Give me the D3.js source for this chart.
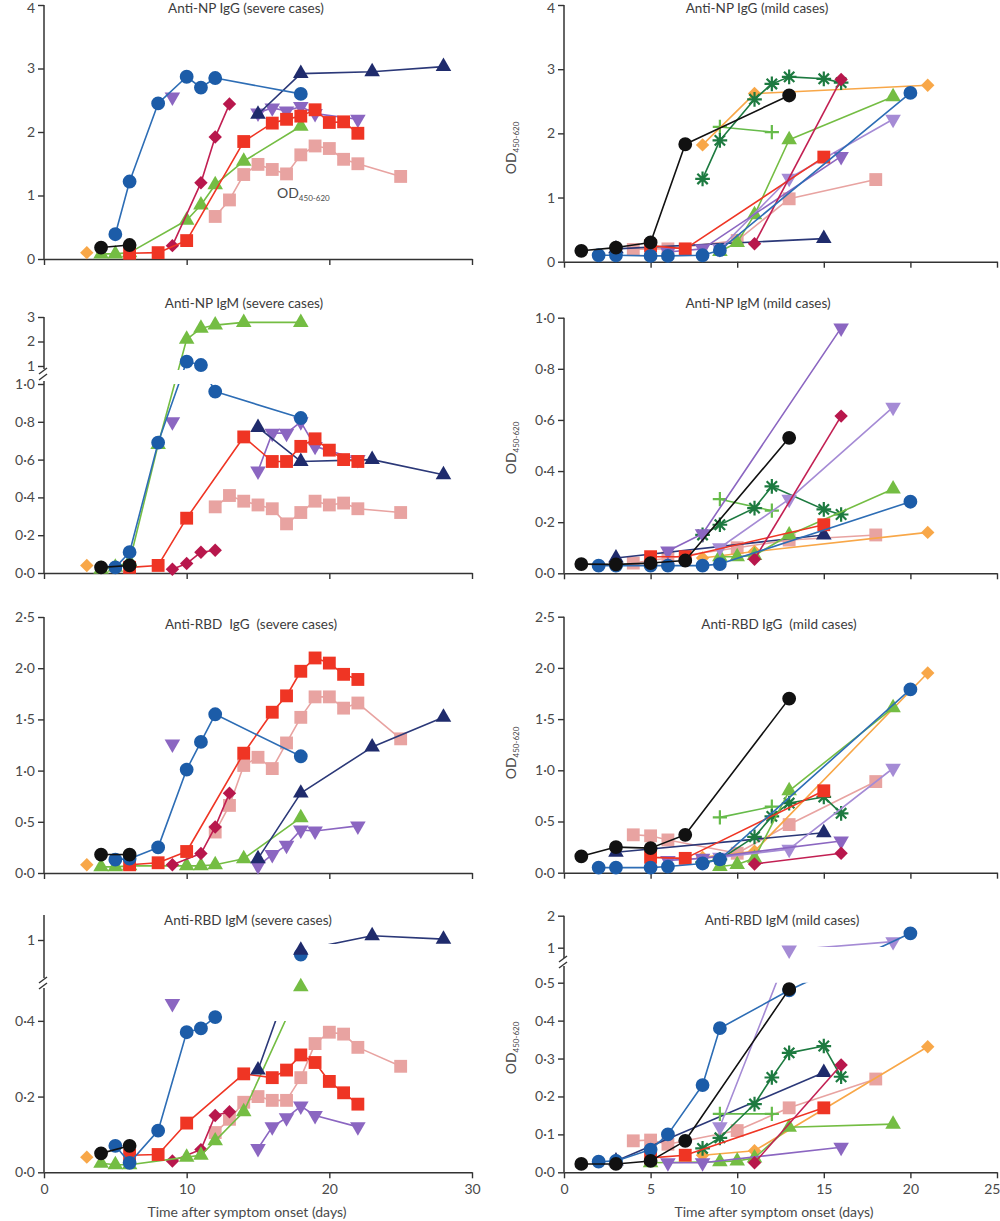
<!DOCTYPE html>
<html><head><meta charset="utf-8">
<script src="https://cdn.jsdelivr.net/npm/d3@7"></script>
<style>body{margin:0;background:#fff}svg{display:block}</style>
</head><body>
<svg id="chart" width="1000" height="1221"></svg>
<script>
// ---------------- DATA ([day, OD450-620]) ----------------
const titles = ["Anti-NP IgG (severe cases)", "Anti-NP IgM (severe cases)", "Anti-RBD  IgG  (severe cases)", "Anti-RBD IgM (severe cases)",
                "Anti-NP IgG (mild cases)", "Anti-NP IgM (mild cases)", "Anti-RBD IgG  (mild cases)", "Anti-RBD IgM (mild cases)"];
const xTicksSevere = [0, 10, 20, 30];
const xTicksMild = [0, 5, 10, 15, 20, 25];
const yTicks0to4 = [0, 1, 2, 3, 4];
const yTicksNpIgMSevereLow = [0, 0.2, 0.4, 0.6, 0.8, 1.0];
const yTicksNpIgMSevereHigh = [1, 2, 3];
const yTicks0to25 = [0, 0.5, 1.0, 1.5, 2.0, 2.5];
const yTicksRbdIgMSevereLow = [0, 0.2, 0.4];
const yTicksRbdIgMSevereHigh = [1];
const yTicks0to1 = [0, 0.2, 0.4, 0.6, 0.8, 1.0];
const yTicksRbdIgMMildLow = [0, 0.1, 0.2, 0.3, 0.4, 0.5];
const yTicksRbdIgMMildHigh = [1, 2];
const xLabel = "Time after symptom onset (days)";

const npIgGSevere = [
  {key: "pink", pts: [[12,0.67],[13,0.93],[14,1.33],[15,1.49],[16,1.41],[17,1.34],[18,1.64],[19,1.78],[20,1.74],[21,1.57],[22,1.5],[25,1.3]]},
  {key: "green", pts: [[4,0.08],[5,0.08],[6,0.1],[10,0.61],[11,0.85],[12,1.17],[14,1.54],[18,2.09]]},
  {key: "crimson", pts: [[9,0.21],[11,1.2],[12,1.92],[13,2.44]]},
  {key: "purple", pts: [[15,2.3],[16,2.38],[17,2.33],[18,2.4],[19,2.29],[22,2.2]]},
  {key: "purple", pts: [[9,2.55]]},
  {key: "red", pts: [[6,0.09],[8,0.1],[10,0.29],[14,1.85],[16,2.14],[17,2.2],[18,2.25],[19,2.35],[20,2.15],[21,2.16],[22,1.98]]},
  {key: "navy", pts: [[15,2.28],[18,2.92],[23,2.95],[28,3.03]]},
  {key: "blue", pts: [[5,0.39],[6,1.22],[8,2.45],[10,2.87],[11,2.7],[12,2.85],[18,2.6]]},
  {key: "black", pts: [[4,0.18],[6,0.22]]},
  {key: "orange", pts: [[3,0.1]]}
];
const npIgMSevere = [
  {key: "pink", pts: [[12,0.35],[13,0.41],[14,0.38],[15,0.36],[16,0.34],[17,0.26],[18,0.32],[19,0.38],[20,0.36],[21,0.37],[22,0.34],[25,0.32]]},
  {key: "crimson", pts: [[9,0.02],[10,0.05],[11,0.11],[12,0.12]]},
  {key: "purple", pts: [[15,0.54],[16,0.74],[17,0.74],[18,0.8],[19,0.67],[22,0.6]]},
  {key: "purple", pts: [[9,0.8]]},
  {key: "navy", pts: [[15,0.77],[18,0.59],[23,0.6],[28,0.52]]},
  {key: "red", pts: [[6,0.03],[8,0.04],[10,0.29],[14,0.72],[16,0.59],[17,0.59],[18,0.67],[19,0.71],[20,0.65],[21,0.6],[22,0.59]]},
  {key: "green", pts: [[4,0.02],[5,0.03],[6,0.06],[8,0.68],[10,2.09],[11,2.54],[12,2.67],[14,2.78],[18,2.78]]},
  {key: "blue", pts: [[5,0.03],[6,0.11],[8,0.69],[10,1.18],[11,1.04],[12,0.96],[18,0.82]]},
  {key: "black", pts: [[4,0.03],[6,0.04]]},
  {key: "orange", pts: [[3,0.04]]}
];
const rbdIgGSevere = [
  {key: "pink", pts: [[12,0.4],[13,0.66],[14,1.05],[15,1.13],[16,1.02],[17,1.27],[18,1.52],[19,1.72],[20,1.72],[21,1.61],[22,1.66],[25,1.31]]},
  {key: "green", pts: [[4,0.06],[5,0.06],[6,0.07],[10,0.07],[11,0.07],[12,0.08],[14,0.14],[18,0.54]]},
  {key: "crimson", pts: [[9,0.08],[11,0.19],[12,0.45],[13,0.78]]},
  {key: "purple", pts: [[15,0.07],[16,0.18],[17,0.27],[18,0.42],[19,0.41],[22,0.46]]},
  {key: "purple", pts: [[9,1.26]]},
  {key: "red", pts: [[6,0.08],[8,0.1],[10,0.21],[14,1.17],[16,1.57],[17,1.73],[18,1.97],[19,2.1],[20,2.05],[21,1.94],[22,1.89]]},
  {key: "navy", pts: [[15,0.14],[18,0.78],[23,1.23],[28,1.52]]},
  {key: "blue", pts: [[5,0.13],[6,0.14],[8,0.25],[10,1.01],[11,1.28],[12,1.55],[18,1.14]]},
  {key: "black", pts: [[4,0.18],[6,0.18]]},
  {key: "orange", pts: [[3,0.08]]}
];
const rbdIgMSevere = [
  {key: "pink", pts: [[12,0.105],[13,0.14],[14,0.185],[15,0.2],[16,0.19],[17,0.19],[18,0.25],[19,0.34],[20,0.37],[21,0.365],[22,0.33],[25,0.28]]},
  {key: "crimson", pts: [[9,0.03],[11,0.06],[12,0.15],[13,0.16]]},
  {key: "green", pts: [[4,0.024],[5,0.02],[6,0.02],[10,0.04],[11,0.045],[12,0.083],[14,0.16],[18,0.49]]},
  {key: "purple", pts: [[15,0.063],[16,0.12],[17,0.144],[18,0.175],[19,0.15],[22,0.12]]},
  {key: "purple", pts: [[9,0.446]]},
  {key: "red", pts: [[6,0.045],[8,0.047],[10,0.13],[14,0.26],[16,0.25],[17,0.27],[18,0.31],[19,0.29],[20,0.24],[21,0.21],[22,0.18]]},
  {key: "blue", pts: [[5,0.07],[6,0.025],[8,0.11],[10,0.37],[11,0.38],[12,0.41],[18,0.83]]},
  {key: "navy", pts: [[15,0.27],[18,0.88],[23,1.05],[28,1.01]]},
  {key: "black", pts: [[4,0.05],[6,0.07]]},
  {key: "orange", pts: [[3,0.04]]}
];
const npIgGMild = [
  {key: "pink", pts: [[4,0.19],[5,0.2],[6,0.2],[10,0.33],[13,0.98],[18,1.28]]},
  {key: "navy", pts: [[3,0.2],[15,0.36]]},
  {key: "plus", pts: [[9,2.1],[12,2.02]]},
  {key: "orange", pts: [[8,1.82],[11,2.62],[21,2.75]]},
  {key: "star", pts: [[8,1.29],[9,1.89],[11,2.53],[12,2.77],[13,2.88],[15,2.85],[16,2.79]]},
  {key: "green", pts: [[9,0.16],[10,0.3],[11,0.73],[13,1.9],[19,2.57]]},
  {key: "lavender", pts: [[9,0.2],[13,1.3],[19,2.22]]},
  {key: "purple", pts: [[6,0.15],[8,0.2],[16,1.64]]},
  {key: "red", pts: [[5,0.25],[7,0.2],[15,1.63]]},
  {key: "crimson", pts: [[11,0.28],[16,2.84]]},
  {key: "blue", pts: [[2,0.1],[3,0.1],[5,0.09],[6,0.09],[8,0.1],[9,0.18],[20,2.63]]},
  {key: "black", pts: [[1,0.17],[3,0.22],[5,0.3],[7,1.83],[13,2.59]]}
];
const npIgMMild = [
  {key: "pink", pts: [[4,0.04],[5,0.05],[6,0.06],[10,0.1],[13,0.13],[18,0.15]]},
  {key: "orange", pts: [[8,0.06],[11,0.085],[21,0.16]]},
  {key: "navy", pts: [[3,0.06],[15,0.15]]},
  {key: "plus", pts: [[9,0.29],[12,0.245]]},
  {key: "star", pts: [[8,0.15],[9,0.19],[11,0.255],[12,0.34],[15,0.25],[16,0.23]]},
  {key: "green", pts: [[9,0.065],[10,0.065],[11,0.07],[13,0.15],[19,0.33]]},
  {key: "lavender", pts: [[9,0.1],[13,0.29],[19,0.65]]},
  {key: "purple", pts: [[6,0.087],[8,0.155],[16,0.96]]},
  {key: "red", pts: [[5,0.065],[7,0.065],[15,0.19]]},
  {key: "crimson", pts: [[11,0.055],[16,0.615]]},
  {key: "blue", pts: [[2,0.03],[3,0.03],[5,0.03],[6,0.03],[8,0.03],[9,0.036],[20,0.28]]},
  {key: "black", pts: [[1,0.036],[3,0.035],[5,0.04],[7,0.05],[13,0.53]]}
];
const rbdIgGMild = [
  {key: "pink", pts: [[4,0.37],[5,0.36],[6,0.32],[10,0.19],[13,0.47],[18,0.89]]},
  {key: "orange", pts: [[8,0.15],[11,0.21],[21,1.95]]},
  {key: "navy", pts: [[3,0.2],[15,0.39]]},
  {key: "plus", pts: [[9,0.54],[12,0.645]]},
  {key: "star", pts: [[8,0.1],[9,0.13],[11,0.35],[12,0.55],[13,0.68],[15,0.74],[16,0.58]]},
  {key: "green", pts: [[9,0.06],[10,0.08],[11,0.14],[13,0.8],[19,1.61]]},
  {key: "lavender", pts: [[9,0.15],[13,0.23],[19,1.02]]},
  {key: "purple", pts: [[6,0.12],[8,0.14],[16,0.31]]},
  {key: "red", pts: [[5,0.15],[7,0.14],[15,0.8]]},
  {key: "crimson", pts: [[11,0.085],[16,0.19]]},
  {key: "blue", pts: [[2,0.05],[3,0.05],[5,0.05],[6,0.06],[8,0.09],[9,0.13],[20,1.79]]},
  {key: "black", pts: [[1,0.16],[3,0.25],[5,0.24],[7,0.37],[13,1.7]]}
];
const rbdIgMMild = [
  {key: "pink", pts: [[4,0.083],[5,0.085],[6,0.074],[10,0.11],[13,0.17],[18,0.246]]},
  {key: "orange", pts: [[8,0.045],[11,0.057],[21,0.331]]},
  {key: "navy", pts: [[3,0.03],[15,0.263]]},
  {key: "plus", pts: [[9,0.154],[12,0.154]]},
  {key: "star", pts: [[8,0.063],[9,0.091],[11,0.18],[12,0.25],[13,0.315],[15,0.333],[16,0.252]]},
  {key: "green", pts: [[5,0.025],[9,0.028],[10,0.03],[11,0.038],[13,0.119],[19,0.127]]},
  {key: "lavender", pts: [[9,0.12],[13,0.93],[19,1.19]]},
  {key: "purple", pts: [[6,0.025],[8,0.025],[16,0.066]]},
  {key: "red", pts: [[5,0.038],[7,0.045],[15,0.17]]},
  {key: "crimson", pts: [[11,0.025],[16,0.283]]},
  {key: "blue", pts: [[2,0.028],[3,0.03],[5,0.06],[6,0.1],[8,0.23],[9,0.38],[13,0.48],[20,1.45]]},
  {key: "black", pts: [[1,0.022],[3,0.022],[5,0.03],[7,0.083],[13,0.483]]}
];

// ---------------- STYLES ----------------
const starSym = {draw(ctx, size) {
  const r = Math.sqrt(size) * 0.62, d = r * 0.7071;
  ctx.moveTo(-r, 0); ctx.lineTo(r, 0); ctx.moveTo(0, -r); ctx.lineTo(0, r);
  ctx.moveTo(-d, -d); ctx.lineTo(d, d); ctx.moveTo(-d, d); ctx.lineTo(d, -d);
}};
const plusSym = {draw(ctx, size) {
  const r = Math.sqrt(size) * 0.6;
  ctx.moveTo(-r, 0); ctx.lineTo(r, 0); ctx.moveTo(0, -r); ctx.lineTo(0, r);
}};
const styles = {
  blue:     {color: "#1c5ca8", line: "#2d6db5", shape: d3.symbolCircle, size: 150},
  black:    {color: "#111111", line: "#111111", shape: d3.symbolCircle, size: 150},
  red:      {color: "#ef3524", line: "#ef3524", shape: d3.symbolSquare, size: 165},
  pink:     {color: "#e8a3a1", line: "#e8a3a1", shape: d3.symbolSquare, size: 165},
  green:    {color: "#74bd43", line: "#74bd43", shape: d3.symbolTriangle, size: 105},
  navy:     {color: "#1f2b6c", line: "#2b3878", shape: d3.symbolTriangle, size: 105},
  purple:   {color: "#8b66c1", line: "#8b66c1", shape: d3.symbolTriangle, size: 105, rot: 180},
  lavender: {color: "#a58bd5", line: "#a58bd5", shape: d3.symbolTriangle, size: 105, rot: 180},
  crimson:  {color: "#b8174c", line: "#c21f52", shape: d3.symbolSquare, size: 90, rot: 45},
  orange:   {color: "#f8a748", line: "#f8a748", shape: d3.symbolSquare, size: 90, rot: 45},
  star:     {color: "#1d7a40", line: "#1d7a40", shape: starSym, size: 140, stroke: true},
  plus:     {color: "#66bb4a", line: "#66bb4a", shape: plusSym, size: 140, stroke: true}
};

// ---------------- LAYOUT ----------------
const fmtDot = d => d3.format(".1f")(d).replace(".", "\u00b7");
const fmtInt = d3.format("d");
const xL = d3.scaleLinear().domain([0, 30]).range([44, 472]);
const xR = d3.scaleLinear().domain([0, 25]).range([564, 997]);

const panels = [
  {data: npIgGSevere, title: titles[0], x: xL, xTicks: xTicksSevere, tLab: false, tx: 246, ty: 13,
   segs: [{domain: [0, 4], range: [259, 5], ticks: yTicks0to4, fmt: fmtInt, line: [259, 5]}]},
  {data: npIgMSevere, title: titles[1], x: xL, xTicks: xTicksSevere, tLab: false, tx: 244, ty: 308,
   split: 1.0, mask: [370, 384], breaks: [371, 377],
   segs: [{domain: [0, 1], range: [573, 384], ticks: yTicksNpIgMSevereLow, fmt: fmtDot, line: [573, 381]},
          {domain: [1, 3], range: [366, 317], ticks: yTicksNpIgMSevereHigh, fmt: fmtInt, line: [369, 317]}]},
  {data: rbdIgGSevere, title: titles[2], x: xL, xTicks: xTicksSevere, tLab: false, tx: 251, ty: 629,
   segs: [{domain: [0, 2.5], range: [873, 617], ticks: yTicks0to25, fmt: fmtDot, line: [873, 617]}]},
  {data: rbdIgMSevere, title: titles[3], x: xL, xTicks: xTicksSevere, tLab: true, tx: 248, ty: 925,
   split: 0.5, mask: [944, 1021], breaks: [980, 986],
   segs: [{domain: [0, 0.5], range: [1172.3, 983], ticks: yTicksRbdIgMSevereLow, fmt: fmtDot, line: [1172.3, 988]},
          {domain: [0.5, 1.3], range: [983, 914.2], ticks: yTicksRbdIgMSevereHigh, fmt: fmtInt, line: [978, 915]}]},
  {data: npIgGMild, title: titles[4], x: xR, xTicks: xTicksMild, tLab: false, tx: 757, ty: 13, od: 148,
   segs: [{domain: [0, 4], range: [261.7, 5], ticks: yTicks0to4, fmt: fmtInt, line: [261.7, 5]}]},
  {data: npIgMMild, title: titles[5], x: xR, xTicks: xTicksMild, tLab: false, tx: 758, ty: 308, od: 448,
   segs: [{domain: [0, 1], range: [573.3, 317.7], ticks: yTicks0to1, fmt: fmtDot, line: [573.3, 317.7]}]},
  {data: rbdIgGMild, title: titles[6], x: xR, xTicks: xTicksMild, tLab: false, tx: 779, ty: 629, od: 753,
   segs: [{domain: [0, 2.5], range: [872.7, 616.7], ticks: yTicks0to25, fmt: fmtDot, line: [872.7, 616.7]}]},
  {data: rbdIgMMild, title: titles[7], x: xR, xTicks: xTicksMild, tLab: true, tx: 782, ty: 925, od: 1048,
   split: 0.5, mask: [947, 982.7], breaks: [959, 965],
   segs: [{domain: [0, 0.5], range: [1172.3, 982.7], ticks: yTicksRbdIgMMildLow, fmt: fmtDot, line: [1172.3, 966]},
          {domain: [1, 2], range: [947.7, 915.7], ticks: yTicksRbdIgMMildHigh, fmt: fmtInt, line: [958, 915.7]}]}
];

const FONT = "Lato, 'Open Sans', sans-serif";
const TXT = "#4a4a4a";
const svg = d3.select("#chart");
const defs = svg.append("defs");

panels.forEach((p, pi) => {
  const g = svg.append("g");
  const scales = p.segs.map(s => d3.scaleLinear().domain(s.domain).range(s.range));
  const yMap = v => (scales.length > 1 && v > p.split) ? scales[1](v) : scales[0](v);
  const x = p.x;
  const x0 = x.range()[0], x1 = x.range()[1];
  const yBottom = p.segs[0].range[0];

  // axes
  const ax = g.append("g").attr("font-family", FONT);
  p.segs.forEach((s, si) => {
    const a = d3.axisLeft(scales[si]).tickValues(s.ticks).tickFormat(s.fmt).tickSize(6).tickSizeOuter(0).tickPadding(3);
    const ga = ax.append("g").attr("transform", `translate(${x0},0)`).call(a);
    ga.select(".domain").remove();
    ga.selectAll(".tick line").attr("stroke", "#333").attr("stroke-width", 1.4);
    ga.selectAll(".tick text").attr("font-size", 14).attr("fill", TXT).attr("font-family", FONT)
      .attr("y", d => scales[si](d) < 9 ? 3 : 0);
    ax.append("line").attr("x1", x0).attr("x2", x0).attr("y1", s.line[0]).attr("y2", s.line[1])
      .attr("stroke", "#333").attr("stroke-width", 1.5);
  });
  if (p.breaks) {
    p.breaks.forEach(by => {
      ax.append("line").attr("x1", x0 - 5).attr("x2", x0 + 3).attr("y1", by + 3).attr("y2", by - 3)
        .attr("stroke", "#333").attr("stroke-width", 1.4);
    });
  }
  const xa = d3.axisBottom(x).tickValues(p.xTicks).tickSize(6).tickSizeOuter(0).tickPadding(6)
    .tickFormat(p.tLab ? d3.format("d") : "");
  const gx = ax.append("g").attr("transform", `translate(0,${yBottom})`).call(xa);
  gx.select(".domain").attr("stroke", "#333").attr("stroke-width", 1.5);
  gx.selectAll(".tick line").attr("stroke", "#333").attr("stroke-width", 1.4);
  gx.selectAll(".tick text").attr("font-size", 14).attr("fill", TXT).attr("font-family", FONT)
    .attr("text-anchor", d => x(d) > 990 ? "end" : "middle")
    .attr("x", d => x(d) > 990 ? 3 : 0);

  // title
  g.append("text").attr("x", p.tx).attr("y", p.ty).attr("text-anchor", "middle")
    .attr("font-family", FONT).attr("font-size", 13.5).attr("fill", "#3c3c3c")
    .style("white-space", "pre").attr("xml:space", "preserve").text(p.title);

  // y label for mild panels
  if (p.od) {
    const t = g.append("text").attr("transform", `translate(516,${p.od}) rotate(-90)`)
      .attr("text-anchor", "middle").attr("font-family", FONT).attr("font-size", 14).attr("fill", TXT);
    t.append("tspan").text("OD");
    t.append("tspan").attr("font-size", 8).attr("dy", 3).text("450-620");
  }

  // clip for broken axis: lines hidden inside the axis-break band
  let clipId = null;
  if (p.mask) {
    clipId = "clip" + pi;
    const cp = defs.append("clipPath").attr("id", clipId);
    const top = p.segs[1].line[1] - 20;
    cp.append("rect").attr("x", x0).attr("y", top).attr("width", x1 - x0 + 20).attr("height", p.mask[0] - top);
    cp.append("rect").attr("x", x0).attr("y", p.mask[1]).attr("width", x1 - x0 + 20)
      .attr("height", yBottom + 10 - p.mask[1]);
  }

  const line = d3.line().x(d => x(d[0])).y(d => yMap(d[1]));
  const sym = d3.symbol();
  p.data.forEach(s => {
    const st = styles[s.key];
    const lg = g.append("g");
    if (clipId) lg.attr("clip-path", `url(#${clipId})`);
    if (s.pts.length > 1) {
      lg.append("path").attr("d", line(s.pts)).attr("fill", "none")
        .attr("stroke", st.line).attr("stroke-width", 1.6).attr("stroke-linejoin", "round");
    }
    g.append("g").selectAll("path").data(s.pts).join("path")
      .attr("transform", d => `translate(${x(d[0])},${yMap(d[1])})` + (st.rot ? ` rotate(${st.rot})` : ""))
      .attr("d", sym.type(st.shape).size(st.size)())
      .attr("fill", st.stroke ? "none" : st.color)
      .attr("stroke", st.stroke ? st.color : "none")
      .attr("stroke-width", st.stroke ? 2.2 : 0);
  });
});

// stray OD label inside first panel
const od1 = svg.append("text").attr("x", 277).attr("y", 198).attr("font-family", FONT)
  .attr("font-size", 14).attr("fill", TXT);
od1.append("tspan").text("OD");
od1.append("tspan").attr("font-size", 8).attr("dy", 3).text("450-620");

// x-axis titles
[247, 774].forEach(cx => {
  svg.append("text").attr("x", cx).attr("y", 1217).attr("text-anchor", "middle")
    .attr("font-family", FONT).attr("font-size", 14).attr("fill", TXT).text(xLabel);
});
</script>
</body></html>
